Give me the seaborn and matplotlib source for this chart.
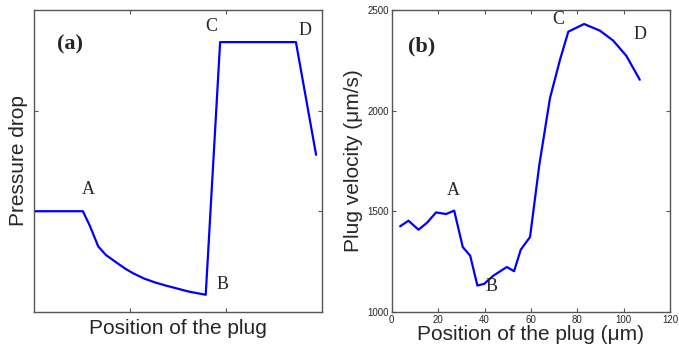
import numpy as np
import pandas as pd
import matplotlib
matplotlib.use("Agg")
import matplotlib.pyplot as plt
import seaborn as sns

# (a) schematic pressure drop along the plug (arbitrary units)
pos_a = [0.0, 0.51, 0.58, 0.67, 0.75, 0.86, 0.95, 1.03, 1.15, 1.27, 1.38, 1.50,
         1.62, 1.79, 1.94, 2.73, 2.94]
drop_a = [1.0, 1.0, 0.86, 0.65, 0.565, 0.49, 0.43, 0.385, 0.33, 0.29, 0.26, 0.23,
          0.20, 0.17, 2.68, 2.68, 1.56]

# (b) measured plug velocity (um/s) vs position (um)
pos_b = [3.6, 7.2, 11.5, 15.1, 19.1, 23.4, 26.9, 30.6, 33.8, 36.9, 39.8, 43.8,
         49.6, 52.7, 55.6, 59.6, 63.6, 68.2, 72.5, 76.1, 82.9, 89.7, 95.4, 101.1, 106.9]
vel_b = [1425, 1453, 1408, 1442, 1494, 1486, 1503, 1322, 1279, 1131, 1139, 1180,
         1223, 1202, 1309, 1372, 1731, 2062, 2252, 2392, 2430, 2397, 2348, 2272, 2153]

labels = ['A', 'B', 'C', 'D']
lab_a = [(0.57, 1.13), (1.96, 0.19), (1.85, 2.75), (2.82, 2.71)]
lab_b = [(26.6, 1560), (43.0, 1086), (71.8, 2409), (107.0, 2335)]

sns.set_style("ticks")
plt.rcParams['font.family'] = ['Liberation Sans', 'DejaVu Sans']
plt.rcParams['xtick.direction'] = 'in'
plt.rcParams['ytick.direction'] = 'in'

df_a = pd.DataFrame({'x': pos_a, 'y': drop_a})
df_b = pd.DataFrame({'x': pos_b, 'y': vel_b})

fig = plt.figure(figsize=(6.79, 3.54), dpi=100)
ax1 = fig.add_axes([0.050, 0.119, 0.424, 0.853])
ax2 = fig.add_axes([0.577, 0.119, 0.410, 0.853])

sns.lineplot(data=df_a, x='x', y='y', ax=ax1, color='#0000ff', lw=1.6, sort=False)
sns.lineplot(data=df_b, x='x', y='y', ax=ax2, color='#0000ff', lw=1.6, sort=False)

ax1.set_xlim(0, 3)
ax1.set_ylim(0, 3)
ax1.set_xticks([1, 2])
ax1.set_yticks([1, 2])
ax1.set_xticklabels([])
ax1.set_yticklabels([])
ax1.set_xlabel("Position of the plug", fontsize=15, labelpad=3)
ax1.set_ylabel("Pressure drop", fontsize=15, labelpad=2)

ax2.set_xlim(0, 120)
ax2.set_ylim(1000, 2500)
ax2.set_xticks(np.arange(0, 121, 20))
ax2.set_yticks([1000, 1500, 2000, 2500])
ax2.set_xlabel("Position of the plug (\u03bcm)", fontsize=15, labelpad=0)
ax2.set_ylabel("Plug velocity (\u03bcm/s)", fontsize=15, labelpad=3)

for ax in (ax1, ax2):
    for s in ax.spines.values():
        s.set_visible(True)
        s.set_color('#555555')
        s.set_linewidth(1.0)
    ax.tick_params(top=True, right=True, length=3, width=0.8, color='#555555',
                   labelsize=7, pad=2)
    ax.grid(False)

for t, (x, y) in zip(labels, lab_a):
    ax1.text(x, y, t, fontsize=13, family='Liberation Serif', ha='center', va='bottom')
for t, (x, y) in zip(labels, lab_b):
    ax2.text(x, y, t, fontsize=13, family='Liberation Serif', ha='center', va='bottom')

ax1.text(0.375, 2.66, "(a)", fontsize=16, fontweight='bold', family='Liberation Serif',
         ha='center', va='center')
ax2.text(13, 2320, "(b)", fontsize=16, fontweight='bold', family='Liberation Serif',
         ha='center', va='center')

fig.savefig("out.png", dpi=100)
